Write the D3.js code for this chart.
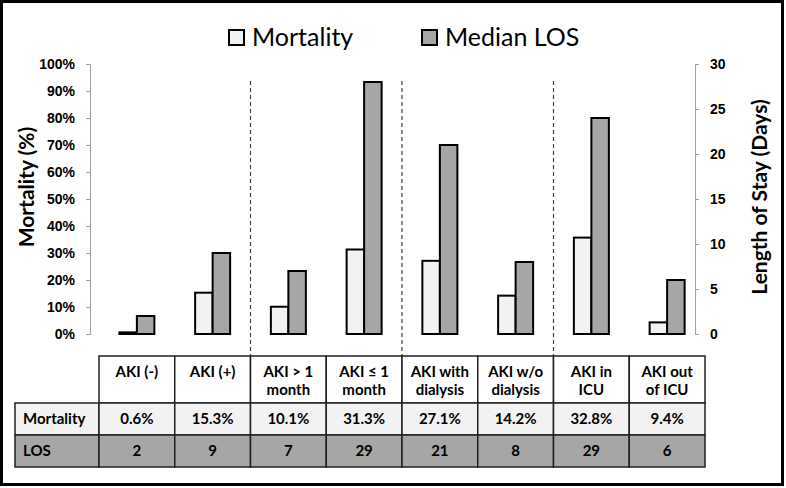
<!DOCTYPE html>
<html><head><meta charset="utf-8">
<script src="https://cdn.jsdelivr.net/npm/d3@7"></script>
<style>body{margin:0;background:#fff}svg{display:block;font-family:Lato,"Open Sans",sans-serif}</style>
</head><body><svg id="c" width="786" height="488"></svg>
<script>
const categories = ["AKI (-)","AKI (+)","AKI > 1|month","AKI ≤ 1|month","AKI with|dialysis","AKI w/o|dialysis","AKI in|ICU","AKI out|of ICU"];
const mortalityBars = [0.6, 15.3, 10.1, 31.3, 27.1, 14.2, 35.7, 4.3];
const losBars = [2, 9, 7, 28, 21, 8, 24, 6];
const mortalityLabels = ["0.6%","15.3%","10.1%","31.3%","27.1%","14.2%","32.8%","9.4%"];
const losLabels = ["2","9","7","29","21","8","29","6"];
const mortTicks = [0,10,20,30,40,50,60,70,80,90,100];
const losTicks = [0,5,10,15,20,25,30];
const dividerAfter = [1,3,5];

const svg = d3.select("#c");
const lightFill = "#f2f2f2", darkFill = "#a6a6a6";

svg.append("rect").attr("x",1.5).attr("y",1.5).attr("width",781).attr("height",483)
  .attr("fill","none").attr("stroke","#000").attr("stroke-width",3);

const x = d3.scaleBand().domain(d3.range(categories.length)).range([99,705]);
const yL = d3.scaleLinear().domain([0,100]).range([334,64]);
const yR = d3.scaleLinear().domain([0,30]).range([334,64]);
const bw = 17.5;

// left axis
const axL = svg.append("g").attr("transform","translate(90,0)")
  .call(d3.axisLeft(yL).tickValues(mortTicks).tickSize(4).tickPadding(11).tickFormat(d=>d+"%"));
axL.select(".domain").attr("stroke","#a0a0a0").attr("d","M-4,64.5H0.5V334.5H-4");
axL.selectAll(".tick line").attr("stroke","#a0a0a0");
axL.selectAll("text").attr("font-size",14).attr("font-weight","bold").attr("fill","#000");

const axR = svg.append("g").attr("transform","translate(695,0)")
  .call(d3.axisRight(yR).tickValues(losTicks).tickSize(4).tickPadding(11));
axR.select(".domain").attr("stroke","#a0a0a0").attr("d","M4,64.5H0.5V334.5H4");
axR.selectAll(".tick line").attr("stroke","#a0a0a0");
axR.selectAll("text").attr("font-size",14).attr("font-weight","bold").attr("fill","#000");

// axis titles
svg.append("text").attr("transform","translate(34,187) rotate(-90)").attr("text-anchor","middle")
  .attr("font-size",21).attr("font-weight","bold").text("Mortality (%)");
svg.append("text").attr("transform","translate(767,197) rotate(-90)").attr("text-anchor","middle")
  .attr("font-size",21).attr("font-weight","bold").text("Length of Stay (Days)");

// dividers
svg.selectAll(".div").data(dividerAfter).enter().append("line")
  .attr("x1",d=>x(d)+x.bandwidth()).attr("x2",d=>x(d)+x.bandwidth())
  .attr("y1",81).attr("y2",356).attr("stroke","#404040").attr("stroke-width",1.2).attr("stroke-dasharray","4,3");

// bars
const g = svg.append("g");
g.selectAll(".m").data(mortalityBars).enter().append("rect")
  .attr("x",(d,i)=>x(i)+x.bandwidth()/2-bw).attr("width",bw)
  .attr("y",d=>yL(d)).attr("height",d=>yL(0)-yL(d))
  .attr("fill",lightFill).attr("stroke","#000").attr("stroke-width",2);
g.selectAll(".l").data(losBars).enter().append("rect")
  .attr("x",(d,i)=>x(i)+x.bandwidth()/2).attr("width",bw)
  .attr("y",d=>yR(d)).attr("height",d=>yR(0)-yR(d))
  .attr("fill",darkFill).attr("stroke","#000").attr("stroke-width",2);

// legend
const leg = [{t:"Mortality",f:lightFill,x:228},{t:"Median LOS",f:darkFill,x:421}];
leg.forEach(l=>{
  svg.append("rect").attr("x",l.x+1).attr("y",30).attr("width",15).attr("height",15)
    .attr("fill",l.f).attr("stroke","#000").attr("stroke-width",2);
  svg.append("text").attr("x",l.x+24).attr("y",46).attr("font-size",25).text(l.t);
});

// table
const t = svg.append("g");
const rows = [{y:356,h:47},{y:403,h:32},{y:435,h:32}];
categories.forEach((c,i)=>{
  t.append("rect").attr("x",x(i)).attr("y",rows[0].y).attr("width",x.bandwidth()).attr("height",rows[0].h)
   .attr("fill","#fff").attr("stroke","#202020").attr("stroke-width",1.5);
  const lines = c.split("|");
  lines.forEach((ln,k)=>{
    t.append("text").attr("x",x(i)+x.bandwidth()/2).attr("y",377+k*18).attr("text-anchor","middle")
     .attr("font-size",15).attr("font-weight","bold").text(ln);
  });
});
const bodyRows = [{label:"Mortality",vals:mortalityLabels,fill:lightFill},{label:"LOS",vals:losLabels,fill:darkFill}];
bodyRows.forEach((r,ri)=>{
  const ry = rows[ri+1].y, rh = rows[ri+1].h;
  t.append("rect").attr("x",15).attr("y",ry).attr("width",84).attr("height",rh)
   .attr("fill",r.fill).attr("stroke","#202020").attr("stroke-width",1.5);
  t.append("text").attr("x",23).attr("y",ry+rh/2+5).attr("font-size",15).attr("font-weight","bold").text(r.label);
  r.vals.forEach((v,i)=>{
    t.append("rect").attr("x",x(i)).attr("y",ry).attr("width",x.bandwidth()).attr("height",rh)
     .attr("fill",r.fill).attr("stroke","#202020").attr("stroke-width",1.5);
    t.append("text").attr("x",x(i)+x.bandwidth()/2).attr("y",ry+rh/2+5).attr("text-anchor","middle")
     .attr("font-size",15).attr("font-weight","bold").text(v);
  });
});
</script></body></html>
